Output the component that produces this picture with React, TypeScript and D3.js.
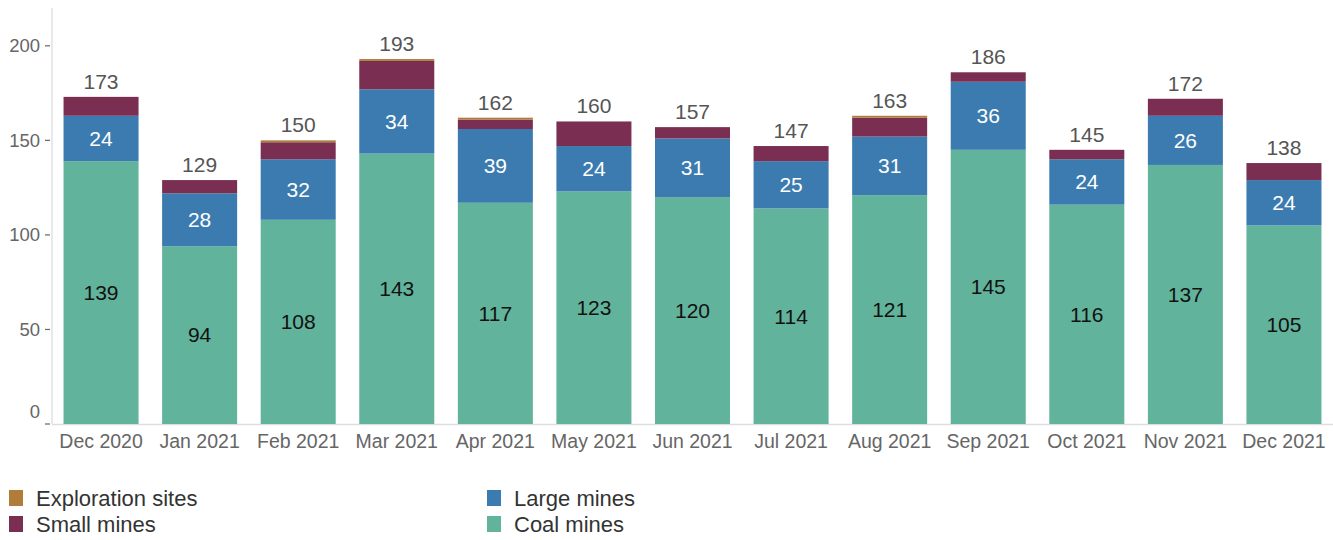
import React from "react";
import * as d3 from "d3";

const months = ["Dec 2020","Jan 2021","Feb 2021","Mar 2021","Apr 2021","May 2021","Jun 2021","Jul 2021","Aug 2021","Sep 2021","Oct 2021","Nov 2021","Dec 2021"];
const coalMines = [139,94,108,143,117,123,120,114,121,145,116,137,105];
const largeMines = [24,28,32,34,39,24,31,25,31,36,24,26,24];
const smallMines = [10,7,9,15,5,13,6,8,10,5,5,9,9];
const explorationSites = [0,0,1,1,1,0,0,0,1,0,0,0,0];
const totals = [173,129,150,193,162,160,157,147,163,186,145,172,138];
const yTicks = [0,50,100,150,200];

const seriesKeys = ["coal","large","small","expl"];
const colors: Record<string,string> = { coal: "#62b39b", large: "#3b7bb0", small: "#7a2f52", expl: "#b07c3a" };

const W = 1333, H = 540;
const FONT = "'Liberation Sans', Arial, sans-serif";

export default function App() {
  const rows = months.map((m, i) => ({ month: m, coal: coalMines[i], large: largeMines[i], small: smallMines[i], expl: explorationSites[i], total: totals[i] }));
  const x = d3.scaleBand().domain(months).range([52, 1333]).paddingInner(0.239).paddingOuter(0.117);
  const y = d3.scaleLinear().domain([0, 220]).range([424, 8]);
  const stack = d3.stack<any>().keys(seriesKeys);
  const layers = stack(rows);
  const bw = x.bandwidth();

  return (
    <svg width={W} height={H} style={{ position: "absolute", left: 0, top: 0, fontFamily: FONT }}>
      <line x1={52} x2={52} y1={8} y2={424} stroke="#e2e2e2" strokeWidth={1.5} />
      <line x1={52} x2={1333} y1={424.5} y2={424.5} stroke="#dedede" strokeWidth={1.5} />
      {yTicks.map((t) => (
        <g key={t}>
          <line x1={45} x2={50} y1={y(t)} y2={y(t)} stroke="#666" strokeWidth={1.2} />
          <text x={40} y={y(t) + (t === 0 ? -12 : 0)} dy="0.35em" textAnchor="end" fontSize={18.5} fill="#666">{t}</text>
        </g>
      ))}
      {layers.map((layer) => (
        <g key={layer.key} fill={colors[layer.key]}>
          {layer.map((d, i) => (
            d[1] - d[0] > 0 ? (
              <rect key={i} x={x(months[i])!} y={y(d[1])} width={bw} height={y(d[0]) - y(d[1])} />
            ) : null
          ))}
        </g>
      ))}
      {layers[0].map((d, i) => (
        <text key={"c" + i} x={x(months[i])! + bw / 2} y={(y(d[0]) + y(d[1])) / 2} dy="0.35em" textAnchor="middle" fontSize={21} fill="#111">{coalMines[i]}</text>
      ))}
      {layers[1].map((d, i) => (
        <text key={"l" + i} x={x(months[i])! + bw / 2} y={(y(d[0]) + y(d[1])) / 2} dy="0.35em" textAnchor="middle" fontSize={21} fill="#fff">{largeMines[i]}</text>
      ))}
      {rows.map((r, i) => (
        <text key={"t" + i} x={x(r.month)! + bw / 2} y={y(r.coal + r.large + r.small + r.expl) - 8} textAnchor="middle" fontSize={21} fill="#555">{r.total}</text>
      ))}
      {months.map((m) => (
        <text key={m} x={x(m)! + bw / 2} y={448} textAnchor="middle" fontSize={19.5} fill="#666">{m}</text>
      ))}
      {[
        { k: "expl", label: "Exploration sites", lx: 9, ly: 490 },
        { k: "small", label: "Small mines", lx: 9, ly: 516 },
        { k: "large", label: "Large mines", lx: 487, ly: 490 },
        { k: "coal", label: "Coal mines", lx: 487, ly: 516 },
      ].map((l) => (
        <g key={l.k}>
          <rect x={l.lx} y={l.ly} width={14} height={16} fill={colors[l.k]} />
          <text x={l.lx + 27} y={l.ly + 8} dy="0.35em" fontSize={22} fill="#333">{l.label}</text>
        </g>
      ))}
    </svg>
  );
}
